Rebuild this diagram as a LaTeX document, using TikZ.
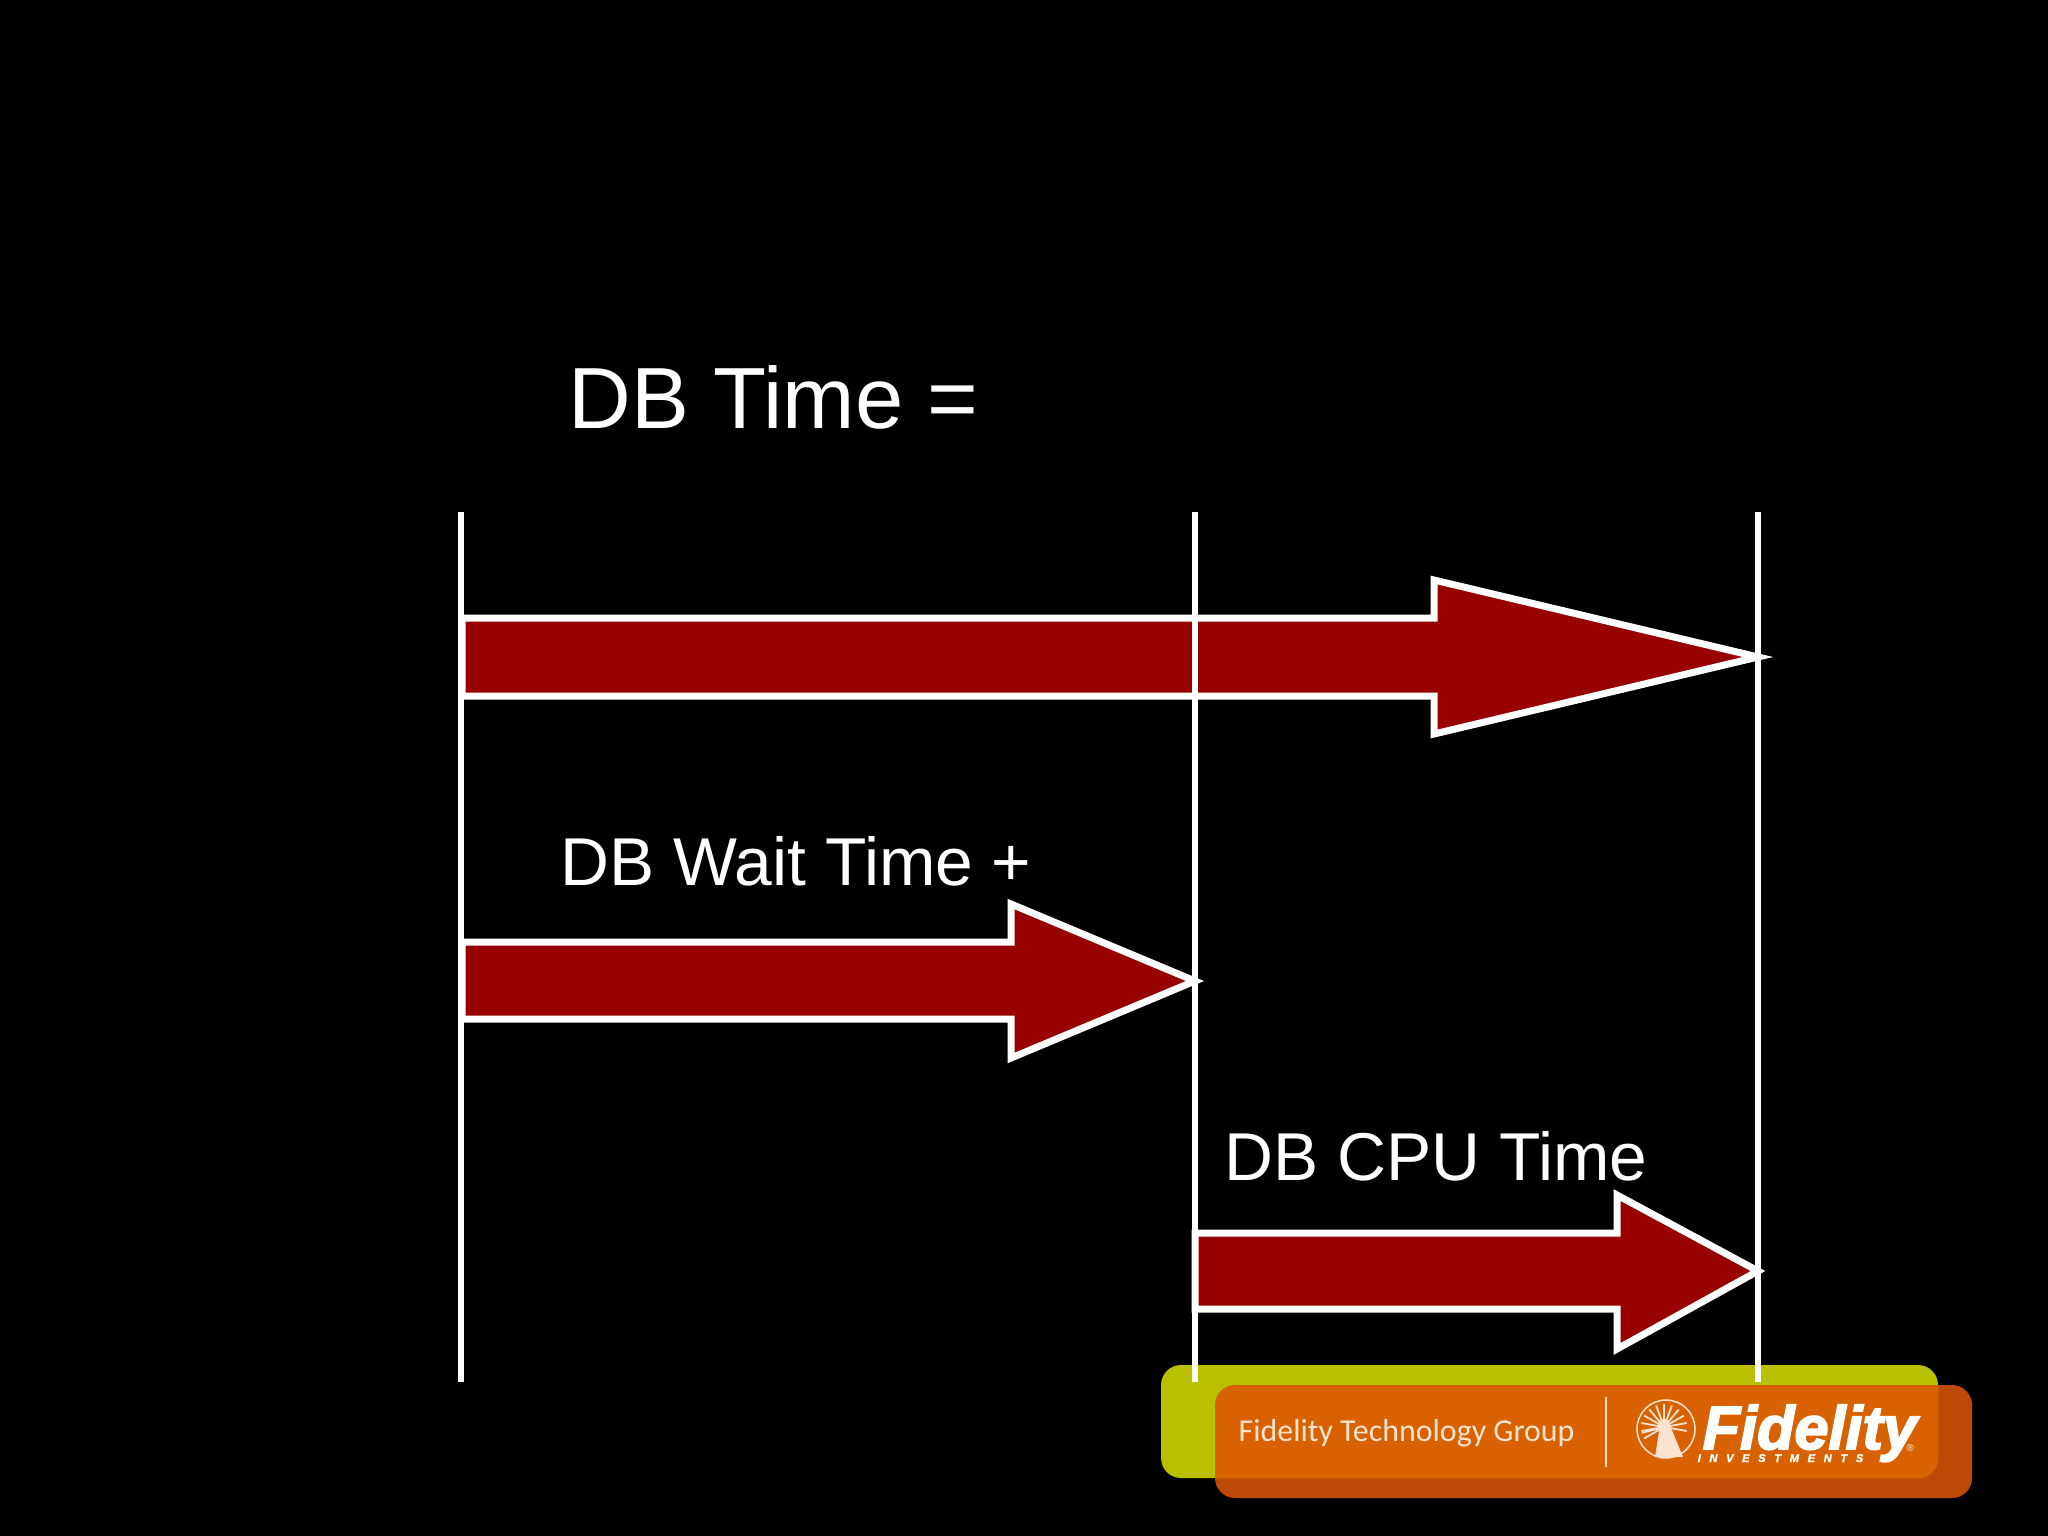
\documentclass[tikz,border=0pt]{standalone}
\usepackage{fontspec}
\usepackage{tikz}
\setmainfont{Liberation Sans}
\newfontfamily\logofont{Carlito}
\newfontfamily\markfont[FakeBold=3]{Liberation Sans}
\newfontfamily\smallmarkfont[LetterSpace=76,FakeBold=1.5]{Liberation Sans}
\definecolor{barred}{HTML}{980000}
\definecolor{tabgreen}{HTML}{B8C000}
\definecolor{taborange}{HTML}{D96200}
\definecolor{tabdark}{HTML}{BC4A05}
\definecolor{logotext}{HTML}{FBE3CF}

\begin{document}
\begin{tikzpicture}[
    x=0.01cm, y=-0.01cm,
    time line/.style={draw=white, line width=0.065cm},
    time bar/.style={
        draw=white,
        fill=barred,
        line width=0.07cm,
        miter limit=10
    },
    bar label/.style={text=white, inner sep=0pt, anchor=base west, font=\fontsize{19.25pt}{23pt}\selectfont},
    logo label/.style={text=logotext, inner sep=0pt, anchor=base west}
]
    % background
    \fill[black] (0,0) rectangle (2048,1536);

    % tab behind the logo
    \fill[tabdark, rounded corners=0.2cm] (1215,1385) rectangle (1972,1498);
    \fill[tabgreen, rounded corners=0.2cm] (1161,1365) rectangle (1938,1478);
    \begin{scope}
        \clip[rounded corners=0.2cm] (1161,1365) rectangle (1938,1478);
        \fill[taborange, rounded corners=0.2cm] (1215,1385) rectangle (1972,1498);
    \end{scope}

    % the three bars
    \draw[time bar] (462,618) -- (1434,618) -- (1434,580) -- (1758,657)
        -- (1434,734) -- (1434,696) -- (462,696) -- cycle;
    \draw[time bar] (462,942) -- (1011,942) -- (1011,904) -- (1195,981)
        -- (1011,1058) -- (1011,1019) -- (462,1019) -- cycle;
    \draw[time bar] (1195,1233) -- (1617,1233) -- (1617,1195) -- (1758,1271)
        -- (1617,1349) -- (1617,1309) -- (1195,1309) -- cycle;

    % vertical time lines
    \coordinate (start top) at (461,512);
    \coordinate (start bottom) at (461,1382);
    \coordinate (mid top) at (1195,512);
    \coordinate (mid bottom) at (1195,1382);
    \coordinate (end top) at (1758,512);
    \coordinate (end bottom) at (1758,1382);
    \draw[time line] (start top) -- (start bottom);
    \draw[time line] (mid top) -- (mid bottom);
    \draw[time line] (end top) -- (end bottom);

    % labels
    \node[bar label, font=\fontsize{24.7pt}{29pt}\selectfont] (dbtime) at (568,428) {DB Time =};
    \node[bar label] (dbwait) at (560,885) {DB Wait Time +};
    \node[bar label] (dbcpu) at (1224,1180) {DB CPU Time};

    % logo
    \node[logo label, font=\logofont\fontsize{9.07pt}{12pt}\selectfont] (group) at (1238,1441) {Fidelity Technology Group};
    \coordinate (rule top) at (1606,1397);
    \coordinate (rule bottom) at (1606,1467);
    \draw[logotext, line width=0.012cm] (rule top) -- (rule bottom);
    \draw[logotext, line width=0.015cm] (1666,1429) circle (29);
    \foreach \ang in {-190,-170,...,10,165,150} {
        \draw[logotext, line width=0.018cm] (1664,1427) -- ++(\ang:23);
    }
    \fill[logotext] (1664,1425) circle (6);
    \fill[logotext] (1660,1425) -- (1669,1423) -- (1683,1457) -- (1655,1457) -- cycle;
    \node[logo label, text=white, font=\markfont\bfseries\itshape\fontsize{17.4pt}{20pt}\selectfont] (fidelity) at (1702,1449) {Fidelity};
    \node[logo label, text=white, font=\smallmarkfont\bfseries\itshape\fontsize{3.2pt}{4pt}\selectfont] (investments) at (1697,1462) {INVESTMENTS};
    \node[logo label, text=white, font=\fontsize{2.8pt}{3pt}\selectfont] (regmark) at (1906,1451) {®};
\end{tikzpicture}
\end{document}
